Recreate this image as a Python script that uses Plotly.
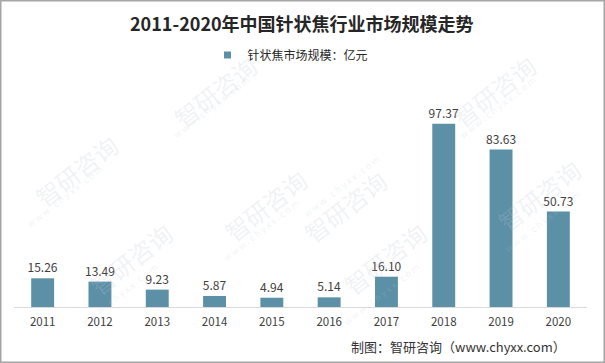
import plotly.graph_objects as go

years = ["2011", "2012", "2013", "2014", "2015", "2016", "2017", "2018", "2019", "2020"]
values = [15.26, 13.49, 9.23, 5.87, 4.94, 5.14, 16.10, 97.37, 83.63, 50.73]
labels = ["15.26", "13.49", "9.23", "5.87", "4.94", "5.14", "16.10", "97.37", "83.63", "50.73"]
series_name = "针状焦市场规模：亿元"
title_text = "2011-2020年中国针状焦行业市场规模走势"
source_text = "制图：智研咨询（www.chyxx.com）"

W, H = 605, 363
ML, MR, MT, MB = 14, 18, 100, 56
PW, PH = W - ML - MR, H - MT - MB

def px_x(x):
    return (x - ML) / PW

def px_y(y):
    return (H - MB - y) / PH

FONT = "Microsoft YaHei, Noto Sans CJK SC, sans-serif"
BAR_COLOR = "#5B90A7"

fig = go.Figure()
fig.add_trace(go.Bar(
    x=years, y=values, name=series_name,
    marker=dict(color=BAR_COLOR, line=dict(width=0)),
    text=labels, textposition="outside", cliponaxis=False, constraintext="none",
    textfont=dict(size=12, color="#404040", family=FONT),
    showlegend=False, legendgroup="s",
))
# legend entry with a small square marker
fig.add_trace(go.Scatter(
    x=[None], y=[None], mode="markers", name=series_name, legendgroup="s",
    marker=dict(symbol="square", size=7, color=BAR_COLOR), showlegend=True,
))

annotations = []
# faint watermarks
wm = [(215, 45), (25, 170), (265, 205), (545, 45), (345, 160), (590, 195), (80, 305), (385, 305)]
for (x, y) in wm:
    annotations.append(dict(
        x=px_x(x), y=px_y(y), xref="paper", yref="paper", showarrow=False,
        text="智研咨询", textangle=-38, font=dict(size=24, color="rgba(190,198,210,0.22)", family="Noto Sans CJK SC"),
    ))
    annotations.append(dict(
        x=px_x(x - 4), y=px_y(y + 26), xref="paper", yref="paper", showarrow=False,
        text="w w w . c h y x x . c o m", textangle=-38, font=dict(size=9, color="rgba(190,198,210,0.22)", family=FONT),
    ))

annotations.append(dict(
    x=px_x(302), y=px_y(23), xref="paper", yref="paper", showarrow=False,
    xanchor="center", yanchor="middle",
    text="<b>" + title_text + "</b>", font=dict(size=18, color="#262626", family="Noto Sans CJK SC, sans-serif"),
))
annotations.append(dict(
    x=px_x(568), y=px_y(346), xref="paper", yref="paper", showarrow=False,
    xanchor="right", yanchor="middle",
    text=source_text, font=dict(size=13, color="#333333", family=FONT),
))

shapes = [dict(
    type="rect", xref="paper", yref="paper",
    x0=px_x(0.75), x1=px_x(W - 0.75), y0=px_y(H - 0.75), y1=px_y(0.75),
    line=dict(color="#a6a6a6", width=1.5), fillcolor="rgba(0,0,0,0)", layer="below",
)]

fig.update_layout(
    width=W, height=H,
    margin=dict(l=ML, r=MR, t=MT, b=MB, autoexpand=False),
    paper_bgcolor="white", plot_bgcolor="white",
    bargap=0.6,
    font=dict(family=FONT, size=12, color="#404040"),
    legend=dict(orientation="h", x=0.5 - 10 / PW, xanchor="center", y=px_y(55), yanchor="middle",
                font=dict(size=12, color="#262626", family=FONT), itemwidth=30,
                bgcolor="rgba(0,0,0,0)"),
    xaxis=dict(showline=True, linecolor="#d9d9d9", linewidth=1, showgrid=False,
               ticks="outside", ticklen=4, tickcolor="rgba(0,0,0,0)",
               tickfont=dict(size=11.5, color="#404040", family=FONT), fixedrange=True),
    yaxis=dict(range=[0, 110], visible=False, showgrid=False, zeroline=False, fixedrange=True),
    annotations=annotations, shapes=shapes,
)

fig.write_html("out.html", config={"displayModeBar": False},
               post_script="document.body.style.margin='0px';document.body.style.overflow='hidden';")
